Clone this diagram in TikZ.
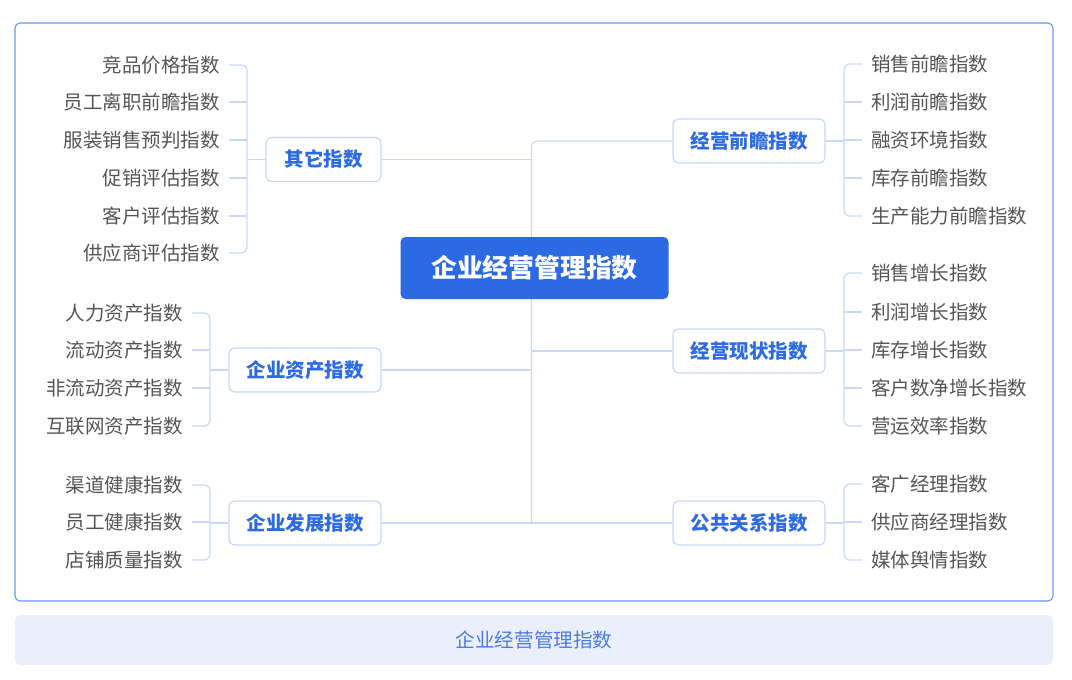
\documentclass[tikz,border=0pt]{standalone}
\usepackage{fontspec}
\setmainfont{Noto Sans CJK SC}
\newfontfamily\cjk{Noto Sans CJK SC}
\usetikzlibrary{positioning,calc}
\definecolor{frameblue}{HTML}{6B96EE}
\definecolor{linec}{HTML}{C9D8F7}
\definecolor{midtext}{HTML}{2D6BE4}
\definecolor{centerfill}{HTML}{2B6AE3}
\definecolor{leaftext}{HTML}{555555}
\definecolor{barfill}{HTML}{EBEFFB}
\definecolor{bartext}{HTML}{4C7BE3}
\pgfdeclarelayer{bg}
\pgfsetlayers{bg,main}
\tikzset{
  txt/.style={text height=17.2pt, text depth=2.3pt},
  leafL/.style={txt, anchor=east, inner xsep=9pt, inner ysep=0pt, text=leaftext, font=\cjk\fontsize{19.5}{20}\selectfont},
  leafR/.style={txt, anchor=west, inner xsep=9pt, inner ysep=0pt, text=leaftext, font=\cjk\fontsize{19.5}{20}\selectfont},
  midbox/.style={txt, draw=linec, line width=1.2pt, fill=white, rounded corners=6pt, minimum height=44pt, inner xsep=17.5pt, text=midtext, font=\cjk\bfseries\fontsize{19.5}{20}\selectfont},
  centerbox/.style={text height=22.6pt, text depth=3pt, fill=centerfill, rounded corners=5pt, minimum width=268pt, minimum height=62pt, text=white, font=\cjk\bfseries\fontsize{25.8}{26}\selectfont},
  conn/.style={draw=linec, line width=1.2pt},
}
\begin{document}
\begin{tikzpicture}[x=1pt,y=-1pt]
\useasboundingbox (0,0) rectangle (1072,680);
% outer frame and bottom bar
\draw[frameblue, line width=1.1pt, rounded corners=5pt] (15,23) rectangle (1053,601);
\node[txt, fill=barfill, rounded corners=5pt, minimum width=1038pt, minimum height=50pt, text=bartext, font=\cjk\fontsize{19.6}{20}\selectfont] (bar) at (534,640) {企业经营管理指数};

% central node
\node[centerbox] (c) at (534.5,268) {企业经营管理指数};

% mid nodes
\node[midbox, minimum width=115pt] (qt) at (323.5,159.5) {其它指数};
\node[midbox, minimum width=152pt] (zc) at (305,370) {企业资产指数};
\node[midbox, minimum width=152pt] (fz) at (305,523) {企业发展指数};
\node[midbox, minimum width=152pt] (qz) at (749,141) {经营前瞻指数};
\node[midbox, minimum width=152pt] (xz) at (749,351) {经营现状指数};
\node[midbox, minimum width=152pt] (gg) at (749,523) {公共关系指数};

% trunk coordinates
\coordinate (tx) at (531.5,0);
\coordinate (bA) at (247,0);
\coordinate (bB) at (210,0);
\coordinate (bR) at (844,0);

% leaves: 其它指数
\node[leafL] (a1) at (229,65) {竞品价格指数};
\node[leafL] (a2) at (229,102) {员工离职前瞻指数};
\node[leafL] (a3) at (229,140) {服装销售预判指数};
\node[leafL] (a4) at (229,178) {促销评估指数};
\node[leafL] (a5) at (229,216) {客户评估指数};
\node[leafL] (a6) at (229,253) {供应商评估指数};
% leaves: 企业资产指数
\node[leafL] (b1) at (192,313) {人力资产指数};
\node[leafL] (b2) at (192,350) {流动资产指数};
\node[leafL] (b3) at (192,388) {非流动资产指数};
\node[leafL] (b4) at (192,426) {互联网资产指数};
% leaves: 企业发展指数
\node[leafL] (d1) at (192,485) {渠道健康指数};
\node[leafL] (d2) at (192,522) {员工健康指数};
\node[leafL] (d3) at (192,560) {店铺质量指数};
% leaves: 经营前瞻指数
\node[leafR] (e1) at (862,64) {销售前瞻指数};
\node[leafR] (e2) at (862,102) {利润前瞻指数};
\node[leafR] (e3) at (862,140) {融资环境指数};
\node[leafR] (e4) at (862,178) {库存前瞻指数};
\node[leafR] (e5) at (862,216) {生产能力前瞻指数};
% leaves: 经营现状指数
\node[leafR] (f1) at (862,273) {销售增长指数};
\node[leafR] (f2) at (862,312) {利润增长指数};
\node[leafR] (f3) at (862,350) {库存增长指数};
\node[leafR] (f4) at (862,388) {客户数净增长指数};
\node[leafR] (f5) at (862,426) {营运效率指数};
% leaves: 公共关系指数
\node[leafR] (g1) at (862,484) {客广经理指数};
\node[leafR] (g2) at (862,522) {供应商经理指数};
\node[leafR] (g3) at (862,560) {媒体舆情指数};

\begin{pgfonlayer}{bg}
% trunk
\draw[conn, rounded corners=6pt] (qz.west) -| (tx |- gg.west);
\draw[conn] (fz.east) -- (gg.west);
\draw[conn] (qt.east) -- (qt.east -| tx);
\draw[conn] (zc.east) -- (zc.east -| tx);
\draw[conn] (xz.west) -- (xz.west -| tx);
% 其它指数 bracket
\draw[conn, rounded corners=6pt] (a1.east) -| (bA |- a6.east) -- (a6.east);
\foreach \n in {a2,a3,a4,a5} \draw[conn] (\n.east) -- (\n.east -| bA);
\draw[conn] (bA |- qt.west) -- (qt.west);
% 企业资产指数 bracket
\draw[conn, rounded corners=6pt] (b1.east) -| (bB |- b4.east) -- (b4.east);
\foreach \n in {b2,b3} \draw[conn] (\n.east) -- (\n.east -| bB);
\draw[conn] (bB |- zc.west) -- (zc.west);
% 企业发展指数 bracket
\draw[conn, rounded corners=6pt] (d1.east) -| (bB |- d3.east) -- (d3.east);
\draw[conn] (d2.east) -- (d2.east -| bB);
\draw[conn] (bB |- fz.west) -- (fz.west);
% 经营前瞻指数 bracket
\draw[conn, rounded corners=6pt] (e1.west) -| (bR |- e5.west) -- (e5.west);
\foreach \n in {e2,e3,e4} \draw[conn] (\n.west) -- (\n.west -| bR);
\draw[conn] (qz.east) -- (qz.east -| bR);
% 经营现状指数 bracket
\draw[conn, rounded corners=6pt] (f1.west) -| (bR |- f5.west) -- (f5.west);
\foreach \n in {f2,f3,f4} \draw[conn] (\n.west) -- (\n.west -| bR);
\draw[conn] (xz.east) -- (xz.east -| bR);
% 公共关系指数 bracket
\draw[conn, rounded corners=6pt] (g1.west) -| (bR |- g3.west) -- (g3.west);
\draw[conn] (g2.west) -- (g2.west -| bR);
\draw[conn] (gg.east) -- (gg.east -| bR);
\end{pgfonlayer}
\end{tikzpicture}
\end{document}
